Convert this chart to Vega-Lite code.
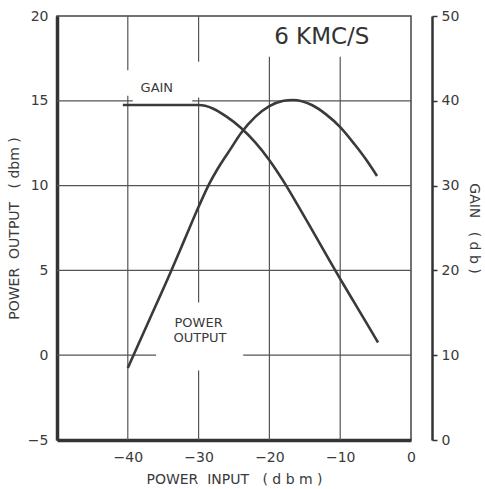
{
  "$schema": "https://vega.github.io/schema/vega-lite/v6.json",
  "width": 354,
  "height": 424,
  "autosize": {"type": "none"},
  "padding": {"left": 57, "top": 16, "right": 74, "bottom": 49},
  "background": "white",
  "config": {
    "view": {"stroke": "#444", "strokeWidth": 1.5},
    "font": "DejaVu Sans",
    "axis": {"grid": false, "labelColor": "#3a3a3a", "titleColor": "#3a3a3a", "labelFont": "DejaVu Sans", "titleFont": "DejaVu Sans", "titleFontWeight": "normal", "labelFlush": false, "labelOverlap": false}
  },
  "datasets": {
    "power": [
      {"input": -40, "output": -0.75},
      {"input": -37, "output": 2.05},
      {"input": -34, "output": 4.85},
      {"input": -32, "output": 6.8},
      {"input": -30, "output": 8.75},
      {"input": -28.5, "output": 10.1},
      {"input": -27, "output": 11.2},
      {"input": -25.5, "output": 12.15},
      {"input": -24, "output": 13.1},
      {"input": -22, "output": 14.05},
      {"input": -20, "output": 14.68},
      {"input": -18, "output": 15.0},
      {"input": -16.7, "output": 15.05},
      {"input": -14, "output": 14.75},
      {"input": -12, "output": 14.2},
      {"input": -10, "output": 13.45},
      {"input": -8, "output": 12.45},
      {"input": -6.2, "output": 11.45},
      {"input": -4.8, "output": 10.57}
    ],
    "gain": [
      {"input": -40.7, "gain": 39.5},
      {"input": -35, "gain": 39.5},
      {"input": -30, "gain": 39.5},
      {"input": -28, "gain": 39.1},
      {"input": -26, "gain": 38.1},
      {"input": -24, "gain": 36.8},
      {"input": -22, "gain": 35.1},
      {"input": -20, "gain": 33.0},
      {"input": -18, "gain": 30.5},
      {"input": -16, "gain": 27.7},
      {"input": -14, "gain": 24.8},
      {"input": -12, "gain": 21.9},
      {"input": -10, "gain": 19.0},
      {"input": -8, "gain": 16.2},
      {"input": -6, "gain": 13.4},
      {"input": -4.66, "gain": 11.5}
    ],
    "gridV": [
      {"input": -40, "y1": 20, "y2": 16.8},
      {"input": -40, "y1": 15.3, "y2": -5},
      {"input": -30, "y1": 20, "y2": 17.3},
      {"input": -30, "y1": 15.2, "y2": 3.1},
      {"input": -30, "y1": -0.9, "y2": -5},
      {"input": -20, "y1": 17.6, "y2": -5},
      {"input": -10, "y1": 17.6, "y2": -5}
    ],
    "gridH": [
      {"y": 15, "input": -50, "input2": -39.3},
      {"y": 15, "input": -30.9, "input2": 0},
      {"y": 10, "input": -50, "input2": 0},
      {"y": 5, "input": -50, "input2": 0},
      {"y": 0, "input": -50, "input2": -36.0},
      {"y": 0, "input": -23.7, "input2": 0}
    ],
    "title": [
      {"input": -12.6, "y": 18.76, "label": "6 KMC/S"}
    ],
    "notes": [
      {"input": -35.9, "y": 15.78, "label": "GAIN"},
      {"input": -30.0, "y": 1.9, "label": "POWER"},
      {"input": -29.8, "y": 1.04, "label": "OUTPUT"}
    ]
  },
  "encoding": {
    "x": {"field": "input", "type": "quantitative", "scale": {"domain": [-50, 0], "nice": false},
      "axis": {"values": [-40, -30, -20, -10, 0], "ticks": false, "domainWidth": 3.5, "domainColor": "#333", "labelFontSize": 14, "labelPadding": 10, "title": "POWER\u00a0\u00a0INPUT\u00a0\u00a0\u00a0(\u00a0d\u00a0b\u00a0m\u00a0)", "titleFontSize": 14, "titlePadding": 8}}
  },
  "layer": [
    {
      "data": {"name": "gridV"},
      "mark": {"type": "rule", "color": "#555", "strokeWidth": 1.2},
      "encoding": {
        "y": {"field": "y1", "type": "quantitative", "scale": {"domain": [-5, 20], "nice": false}, "axis": null},
        "y2": {"field": "y2"}
      }
    },
    {
      "data": {"name": "gridH"},
      "mark": {"type": "rule", "color": "#555", "strokeWidth": 1.2},
      "encoding": {
        "y": {"field": "y", "type": "quantitative", "scale": {"domain": [-5, 20], "nice": false}, "axis": null},
        "x2": {"field": "input2"}
      }
    },
    {
      "data": {"name": "power"},
      "mark": {"type": "line", "interpolate": "monotone", "color": "#3a3a3a", "strokeWidth": 2.6},
      "encoding": {
        "y": {"field": "output", "type": "quantitative", "scale": {"domain": [-5, 20], "nice": false},
          "axis": {"orient": "left", "values": [-5, 0, 5, 10, 15, 20], "ticks": false, "domainWidth": 3.5, "domainColor": "#333", "labelFontSize": 14, "labelPadding": 9, "title": "POWER\u00a0\u00a0OUTPUT\u00a0\u00a0\u00a0(\u00a0dbm\u00a0)", "titleFontSize": 14, "titlePadding": 6}}
      }
    },
    {
      "data": {"name": "title"},
      "mark": {"type": "text", "fontSize": 23, "color": "#333", "align": "center", "baseline": "middle"},
      "encoding": {
        "y": {"field": "y", "type": "quantitative", "scale": {"domain": [-5, 20], "nice": false}, "axis": null},
        "text": {"field": "label"}
      }
    },
    {
      "data": {"name": "notes"},
      "mark": {"type": "text", "fontSize": 13, "color": "#3a3a3a", "align": "center", "baseline": "middle"},
      "encoding": {
        "y": {"field": "y", "type": "quantitative", "scale": {"domain": [-5, 20], "nice": false}, "axis": null},
        "text": {"field": "label"}
      }
    },
    {
      "data": {"name": "gain"},
      "mark": {"type": "line", "interpolate": "monotone", "color": "#3a3a3a", "strokeWidth": 2.6},
      "encoding": {
        "y": {"field": "gain", "type": "quantitative", "scale": {"domain": [0, 50], "nice": false},
          "axis": {"orient": "right", "offset": 21, "values": [0, 10, 20, 30, 40, 50], "domainWidth": 2.5, "domainColor": "#333", "tickColor": "#333", "tickSize": 5, "tickWidth": 1.5, "labelFontSize": 14, "labelPadding": 4, "title": "GAIN\u00a0\u00a0\u00a0(\u00a0d\u00a0b\u00a0)", "titleFontSize": 14, "titlePadding": 8}}
      }
    }
  ],
  "resolve": {"scale": {"y": "independent"}}
}
